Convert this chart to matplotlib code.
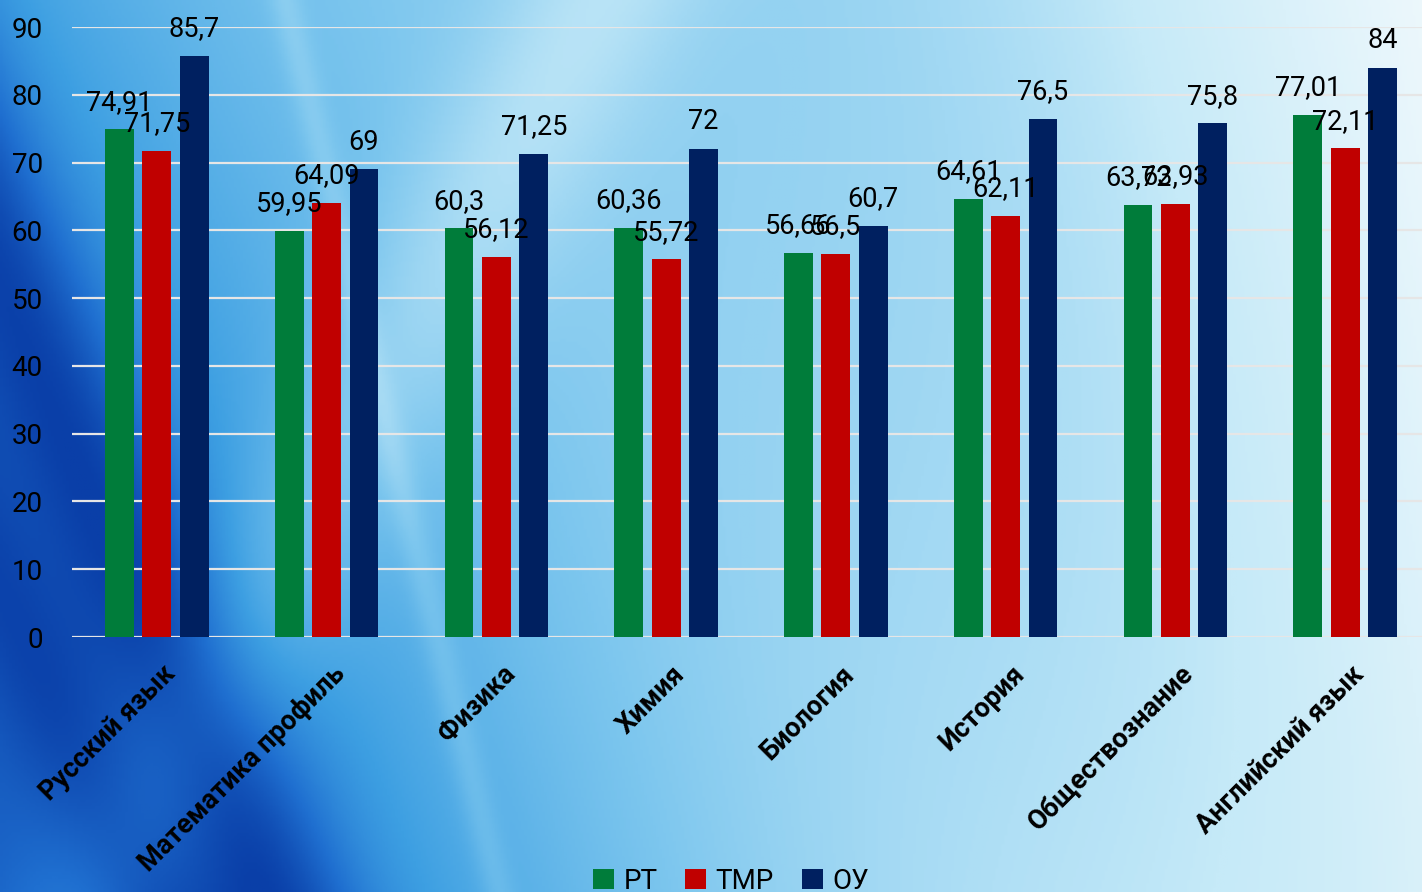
# Grouped bar chart: average exam scores by subject (RT / TMR / OU)
import numpy as np
import matplotlib.pyplot as plt
from matplotlib.colors import LinearSegmentedColormap

plt.rcParams['font.family'] = ['Roboto', 'DejaVu Sans']

# data
subjects = ['Русский язык', 'Математика профиль', 'Физика', 'Химия',
            'Биология', 'История', 'Обществознание', 'Английский язык']
series_names = ['РТ', 'ТМР', 'ОУ']
rt_values = [74.91, 59.95, 60.3, 60.36, 56.66, 64.61, 63.72, 77.01]
tmr_values = [71.75, 64.09, 56.12, 55.72, 56.5, 62.11, 63.93, 72.11]
ou_values = [85.7, 69, 71.25, 72, 60.7, 76.5, 75.8, 84]
y_ticks = [0, 10, 20, 30, 40, 50, 60, 70, 80, 90]

colors = ['#007C3A', '#C00000', '#002060']

W, H = 1422, 892
fig = plt.figure(figsize=(W / 100, H / 100), dpi=100)

# blue streaky background (decoration only)
bg = fig.add_axes([0, 0, 1, 1])
bg.set_axis_off()
yy, xx = np.mgrid[0:1:300j, 0:1:480j]
t = 0.40 + 0.55 * xx - 0.22 * yy * (1 - xx)
t += 0.06 * np.sin(7 * (xx - 0.3 * yy))
t -= 0.28 * np.exp(-((xx - 0.27 * yy + 0.08) / 0.06) ** 2)
t -= 0.16 * np.exp(-((xx - 0.30 * yy + 0.20) / 0.05) ** 2)
t += 0.07 * np.exp(-((xx - 0.15 * yy - 0.20) / 0.012) ** 2)
t += 0.12 * np.exp(-((xx + 0.35 * yy - 0.42) / 0.07) ** 2)
t = np.clip(t, 0, 1)
cmap = LinearSegmentedColormap.from_list(
    'bg', ['#0a3fa8', '#1f6fd0', '#3d9fe2', '#7cc6ee', '#c6eaf8', '#eef8fc'])
bg.imshow(t, cmap=cmap, aspect='auto', extent=[0, 1, 0, 1], vmin=0, vmax=1)

# main axes
ax = fig.add_axes([72 / W, (H - 637) / H, 1358 / W, 610 / H])
ax.patch.set_alpha(0)
x = np.arange(len(subjects))
bw = 0.17
step = 0.22
all_series = [rt_values, tmr_values, ou_values]
for i, vals in enumerate(all_series):
    pos = x + (i - 1) * step
    ax.bar(pos, vals, width=bw, color=colors[i], label=series_names[i], zorder=3)
    for p, v in zip(pos, vals):
        txt = ('%g' % v).replace('.', ',')
        ax.text(p, v + 2.9, txt, ha='center', va='baseline', fontsize=19.5,
                color='black', zorder=4, clip_on=False)

ax.set_xlim(-0.5, len(subjects) - 0.5)
ax.set_ylim(0, 90)
ax.set_yticks(y_ticks)
ax.yaxis.grid(True, color='#e6e6e6', linewidth=1.6, zorder=1)
ax.set_axisbelow(True)
for s in ax.spines.values():
    s.set_visible(False)
ax.tick_params(axis='y', length=0, pad=21, labelsize=20, labelcolor='black')
ax.tick_params(axis='x', length=0, pad=17)
ax.set_xticks(x + 0.03)
ax.set_xticklabels(subjects, rotation=45, ha='right', va='top',
                   rotation_mode='anchor', fontsize=19.5, fontweight='bold')

fig.legend(loc='center', bbox_to_anchor=(0.514, 0.012), ncol=3,
           frameon=False, fontsize=20, handlelength=0.75, handleheight=0.75,
           handletextpad=0.35, columnspacing=1.0)

fig.savefig('out.png', dpi=100)
plt.close(fig)
